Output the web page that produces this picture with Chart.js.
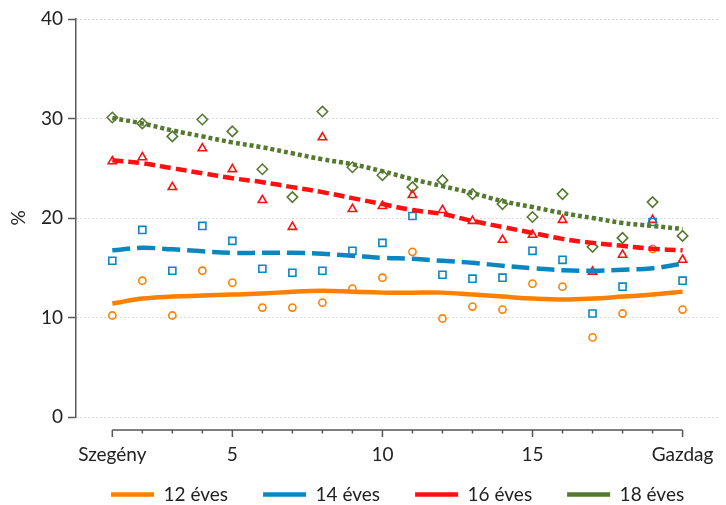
<!DOCTYPE html>
<html lang="hu">
<head>
  <meta charset="UTF-8">
  <title>Jövedelmi csoportok szerint</title>
  <script src="https://cdn.jsdelivr.net/npm/chart.js"></script>
  <style>
    html, body {
      margin: 0;
      padding: 0;
      background: #fff;
    }

    #wrap {
      width: 726px;
      height: 505px;
    }
  </style>
</head>
<body>

  <div id="wrap"><canvas id="incomeChart" width="726" height="505"></canvas></div>

  <script>
    // jövedelmi csoportok (1 = szegény, 20 = gazdag)
    const groups = [1, 2, 3, 4, 5, 6, 7, 8, 9, 10, 11, 12, 13, 14, 15, 16, 17, 18, 19, 20];
    const xTickValues = [1, 5, 10, 15, 20];
    const xTickLabels = ['Szegény', '5', '10', '15', 'Gazdag'];
    const yTickValues = [0, 10, 20, 30, 40];
    const seriesNames = ['12 éves', '14 éves', '16 éves', '18 éves'];

    // pontok
    const pts12 = [10.2, 13.7, 10.2, 14.7, 13.5, 11.0, 11.0, 11.5, 12.9, 14.0, 16.6, 9.9, 11.1, 10.8, 13.4, 13.1, 8.0, 10.4, 16.9, 10.8];
    const pts14 = [15.7, 18.8, 14.7, 19.2, 17.7, 14.9, 14.5, 14.7, 16.7, 17.5, 20.2, 14.3, 13.9, 14.0, 16.7, 15.8, 10.4, 13.1, 19.6, 13.7];
    const pts16 = [25.7, 26.1, 23.1, 27.0, 24.9, 21.8, 19.1, 28.1, 20.9, 21.2, 22.3, 20.8, 19.7, 17.8, 18.3, 19.8, 14.6, 16.3, 19.8, 15.8];
    const pts18 = [30.1, 29.5, 28.2, 29.9, 28.7, 24.9, 22.1, 30.7, 25.1, 24.3, 23.1, 23.8, 22.4, 21.4, 20.1, 22.4, 17.1, 18.0, 21.6, 18.2];

    // simított görbék
    const fit12 = [11.4, 11.9, 12.1, 12.2, 12.3, 12.4, 12.6, 12.7, 12.6, 12.5, 12.5, 12.5, 12.3, 12.1, 11.9, 11.8, 11.9, 12.1, 12.3, 12.6];
    const fit14 = [16.75, 17.0, 16.85, 16.65, 16.5, 16.5, 16.5, 16.4, 16.2, 16.0, 15.9, 15.7, 15.5, 15.2, 14.95, 14.75, 14.7, 14.8, 14.95, 15.4];
    const fit16 = [25.8, 25.5, 25.0, 24.5, 24.0, 23.6, 23.1, 22.6, 22.0, 21.4, 20.8, 20.4, 19.7, 19.1, 18.5, 17.9, 17.5, 17.2, 16.9, 16.75];
    const fit18 = [30.05, 29.5, 28.8, 28.2, 27.6, 27.1, 26.5, 25.9, 25.4, 24.7, 23.9, 23.2, 22.5, 21.7, 21.1, 20.5, 20.0, 19.5, 19.2, 18.9];

    const colors = ['#ff8000', '#0b87c0', '#ff1010', '#55792f'];
    const dashes = [[], [18, 7], [11, 5], [4, 3]];
    const markers = ['circle', 'rect', 'triangle', 'rectRot'];
    const markerSizes = [3.6, 5, 4.8, 5.2];

    const FONT = 'Lato, "DejaVu Sans", sans-serif';
    const pts = [pts12, pts14, pts16, pts18];
    const fits = [fit12, fit14, fit16, fit18];

    const toXY = arr => arr.map((v, i) => ({ x: groups[i], y: v }));

    let datasets = [];
    for (let i = 0; i < 4; i++) {
      datasets.push({
        type: 'line',
        label: seriesNames[i],
        data: toXY(fits[i]),
        borderColor: colors[i],
        backgroundColor: colors[i],
        borderWidth: 4.5,
        borderDash: dashes[i],
        pointRadius: 0,
        tension: 0.4,
        fill: false,
        order: 0
      });
    }
    for (let i = 0; i < 4; i++) {
      datasets.push({
        type: 'scatter',
        label: seriesNames[i] + ' pont',
        data: toXY(pts[i]),
        borderColor: colors[i],
        backgroundColor: 'rgba(255,255,255,0)',
        borderWidth: 1.6,
        pointStyle: markers[i],
        pointRadius: markerSizes[i],
        showLine: false,
        order: 1
      });
    }

    // Stata-szerű x tengely: külön vonal 1-től 20-ig, kis és nagy osztásokkal
    const xAxisLine = {
      id: 'xAxisLine',
      afterDraw(chart) {
        const { ctx, chartArea, scales } = chart;
        const sx = scales.x;
        const y0 = chartArea.bottom + 13;
        ctx.save();
        ctx.strokeStyle = '#555';
        ctx.lineWidth = 1.5;
        ctx.beginPath();
        ctx.moveTo(sx.getPixelForValue(groups[0]), y0);
        ctx.lineTo(sx.getPixelForValue(groups[groups.length - 1]), y0);
        for (let g of groups) {
          const px = sx.getPixelForValue(g);
          const len = xTickValues.includes(g) ? 7 : 3.5;
          ctx.moveTo(px, y0);
          ctx.lineTo(px, y0 + len);
        }
        ctx.stroke();
        ctx.restore();
      }
    };

    // a jelmagyarázat a nagy belső margó miatt lejjebb kerülne, ezért a tetejét feljebb húzzuk
    // (az alját nem, mert a legend a saját dobozára vágja a rajzot)
    const legendShift = {
      id: 'legendShift',
      afterLayout(chart) {
        const lg = chart.legend;
        if (!lg) return;
        lg.top -= 20;
      }
    };

    const ctx = document.getElementById('incomeChart').getContext('2d');
    new Chart(ctx, {
      data: { datasets: datasets },
      options: {
        responsive: false,
        animation: false,
        layout: { padding: { top: 19, right: 0, bottom: 0, left: 0 } },
        plugins: {
          tooltip: { enabled: false },
          legend: {
            position: 'bottom',
            fullSize: false,
            maxHeight: 35,
            labels: {
              filter: item => item.datasetIndex < 4,
              usePointStyle: true,
              pointStyle: 'line',
              pointStyleWidth: 43,
              padding: 35,
              color: '#222',
              font: { family: FONT, size: 19 }
            }
          }
        },
        scales: {
          x: {
            type: 'linear',
            min: -0.21,
            max: 21.22,
            afterBuildTicks: s => { s.ticks = xTickValues.map(v => ({ value: v })); },
            afterFit: s => { s.height = 53; },
            border: { display: false },
            grid: {
              display: true,
              drawOnChartArea: false,
              drawTicks: true,
              tickLength: 26,
              tickColor: 'rgba(0,0,0,0)'
            },
            ticks: {
              padding: 0,
              maxRotation: 0,
              color: '#222',
              font: { family: FONT, size: 19 },
              callback: v => xTickLabels[xTickValues.indexOf(v)]
            }
          },
          y: {
            min: 0,
            max: 40,
            afterBuildTicks: s => { s.ticks = yTickValues.map(v => ({ value: v })); },
            afterFit: s => { s.width = 76; },
            border: { display: true, color: '#5a5a5a', width: 1.5, dash: [1, 3] },
            grid: {
              color: '#b8b8b8',
              lineWidth: 1,
              drawTicks: true,
              tickLength: 8,
              tickColor: '#5a5a5a',
              tickWidth: 1.5
            },
            ticks: {
              padding: 5,
              color: '#222',
              font: { family: FONT, size: 19 }
            },
            title: {
              display: true,
              text: '%',
              color: '#222',
              padding: { top: 7, bottom: 0 },
              font: { family: FONT, size: 19 }
            }
          }
        }
      },
      plugins: [xAxisLine, legendShift]
    });
  </script>

</body>
</html>
